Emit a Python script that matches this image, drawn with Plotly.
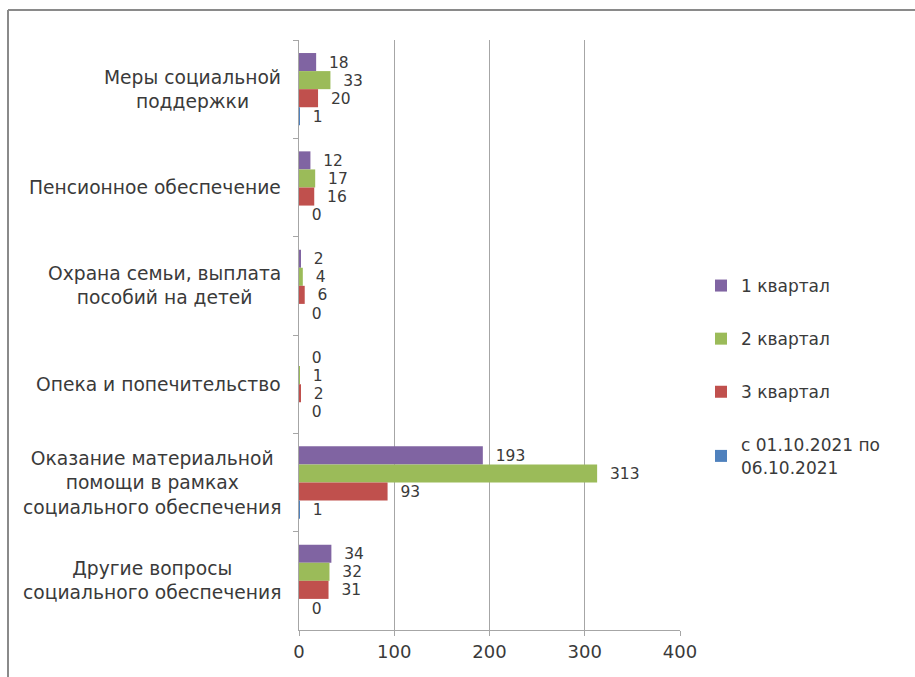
import plotly.graph_objects as go

categories = [
    "Меры социальной<br>поддержки",
    "Пенсионное обеспечение",
    "Охрана семьи, выплата<br>пособий на детей",
    "Опека и попечительство",
    "Оказание материальной<br>помощи в рамках<br>социального обеспечения",
    "Другие вопросы<br>социального обеспечения",
]
series_names = ["1 квартал", "2 квартал", "3 квартал", "с 01.10.2021 по<br>06.10.2021"]
q1 = [18, 12, 2, 0, 193, 34]
q2 = [33, 17, 4, 1, 313, 32]
q3 = [20, 16, 6, 2, 93, 31]
oct_week = [1, 0, 0, 0, 1, 0]
x_ticks = [0, 100, 200, 300, 400]

colors = ["#8064A2", "#9BBB59", "#C0504D", "#4F81BD"]
series_values = [q1, q2, q3, oct_week]

W, H = 915, 677
L, R, T, B = 299, 235, 40, 47
pw, ph = W - L - R, H - T - B

FONT = "DejaVu Sans, Liberation Sans, Arial, sans-serif"
TXT = "#3a3a3a"

fig = go.Figure()
for i, (name, vals, col) in enumerate(zip(series_names, series_values, colors)):
    fig.add_trace(go.Bar(
        y=categories, x=vals, name=name, orientation="h",
        marker=dict(color=col, line=dict(width=0)),
        text=vals, texttemplate="\u00a0\u00a0%{x}", textposition="outside",
        textfont=dict(family=FONT, size=18, color=TXT),
        cliponaxis=False, legendgroup=str(i),
    ))

for c in categories:
    fig.add_annotation(
        x=-(L - 283) / pw, xref="paper", y=c, yref="y",
        text=c, showarrow=False, xanchor="right", yanchor="middle",
        align="center", font=dict(family=FONT, size=18.7, color=TXT),
    )

# outer frame (top and left edge of the screenshot)
fig.add_shape(type="line", xref="paper", yref="paper",
              x0=-(L - 8) / pw, x1=(W - L) / pw, y0=(H - B - 10) / ph, y1=(H - B - 10) / ph,
              line=dict(color="#8a8a8a", width=2))
fig.add_shape(type="line", xref="paper", yref="paper",
              x0=-(L - 8) / pw, x1=-(L - 8) / pw, y0=(H - B - 10) / ph, y1=-B / ph,
              line=dict(color="#8a8a8a", width=2))

fig.update_layout(
    width=W, height=H,
    margin=dict(l=L, r=R, t=T, b=B),
    paper_bgcolor="white", plot_bgcolor="white",
    barmode="group", bargap=0.265, bargroupgap=0,
    font=dict(family=FONT, size=18, color=TXT),
    showlegend=True,
    legend=dict(x=(701 - L) / pw, xanchor="left", y=(H - B - 268) / ph, yanchor="top",
                font=dict(family=FONT, size=17, color=TXT),
                tracegroupgap=28, traceorder="grouped", itemwidth=30,
                bgcolor="rgba(0,0,0,0)"),
    xaxis=dict(range=[0, 400], tickvals=x_ticks, showgrid=True, gridcolor="#a6a6a6",
               gridwidth=1, zeroline=False, showline=True, linecolor="#a6a6a6",
               ticks="outside", ticklen=5, tickcolor="#a6a6a6",
               tickfont=dict(family=FONT, size=18, color=TXT)),
    yaxis=dict(autorange="reversed", showticklabels=False, showgrid=False,
               showline=True, linecolor="#a6a6a6", ticks="outside", ticklen=5,
               tickcolor="#a6a6a6", tickson="boundaries", zeroline=False),
)

fig.write_html("out.html", config={"displayModeBar": False},
               post_script="document.body.style.margin='0';document.body.style.overflow='hidden';")
